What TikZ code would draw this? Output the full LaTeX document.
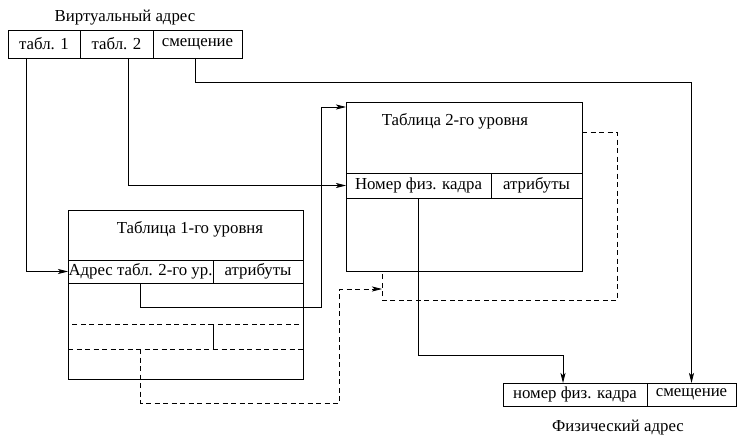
\documentclass[tikz,border=0pt]{standalone}
\usepackage{fontspec}
\setmainfont{Liberation Serif}
\usetikzlibrary{positioning, arrows.meta}

\begin{document}
\begin{tikzpicture}[
  x = 1pt,
  y = -1pt,
  line width = .8pt,
  cell/.style = {
    draw,
    anchor = north west,
    inner sep = 0pt,
    outer sep = 0pt
  },
  label/.style = {
    inner sep = 0pt
  },
  connection/.style = {
    -{Stealth[length=10pt, width=5pt, inset=2.5pt]}
  },
  dashedline/.style = {
    dash pattern = on 5pt off 3.5pt
  },
  font = \rmfamily\fontsize{16.8}{18}\selectfont,
  ]
  \useasboundingbox (0, 0) rectangle (737, 436);

  % Virtual address.
  \node[label] (va-title) at (125, 18) {Виртуальный адрес};
  \node[cell, minimum width=72, minimum height=28] (va-1) at (8, 30) {табл. 1};
  \node[cell, minimum width=73, minimum height=28] (va-2) at (80, 30) {табл. 2};
  \node[cell, minimum width=89, minimum height=28] (va-3) at (153, 30) {смещение};

  % First level table.
  \node[cell, minimum width=235, minimum height=169] (T1) at (68, 210) {};
  \node[label] (T1-title) at (190, 229) {Таблица 1-го уровня};
  \node[cell, minimum width=145, minimum height=23] (T1-addr) at (68, 260) {Адрес табл. 2-го ур.};
  \node[cell, minimum width=90, minimum height=23] (T1-attr) at (213, 260) {атрибуты};
  \node[cell, dashedline, minimum width=145, minimum height=25] (T1-next) at (68, 324) {};
  \node[cell, dashedline, minimum width=90, minimum height=25] (T1-nattr) at (213, 324) {};

  % Second level table.
  \node[cell, minimum width=236, minimum height=169] (T2) at (346, 102) {};
  \node[label] (T2-title) at (455, 121) {Таблица 2-го уровня};
  \node[cell, minimum width=145, minimum height=25] (T2-frame) at (346, 173) {Номер физ. кадра};
  \node[cell, minimum width=91, minimum height=25] (T2-attr) at (491, 173) {атрибуты};

  % Physical address.
  \node[cell, minimum width=144, minimum height=23] (pa-1) at (503, 383) {номер физ. кадра};
  \node[cell, minimum width=89, minimum height=23] (pa-2) at (647, 383) {смещение};
  \node[label] (pa-title) at (618, 428) {Физический адрес};

  % Other second level table.
  \coordinate (page) at ([xshift=36pt, yshift=-18pt]T2.south west);
  \draw[dashedline] ([yshift=-30pt]T2.north east) -- ++(35, 0) -- ++(0, 168)
    -| ([xshift=36pt]T2.south west);

  % Connections.
  \draw[connection] ([xshift=-18pt]va-1.south) |- (T1-addr.west);
  \draw[connection] ([xshift=11.5pt]va-2.south) |- (T2-frame.west);
  \draw[connection] ([xshift=-2.5pt]va-3.south) -- ++(0, 24) -| (pa-2.north);
  \draw[connection] (T1-addr.south) -- ++(0, 24) -- ++(181, 0)
    |- ([yshift=-5pt]T2.north west);
  \draw[connection] (T2-frame.south) -- ++(0, 157) -| ([xshift=-12pt]pa-1.north);
  \draw[connection, dashedline] (T1-next.south) -- ++(0, 54) -- ++(199, 0)
    |- (page);
\end{tikzpicture}
\end{document}
